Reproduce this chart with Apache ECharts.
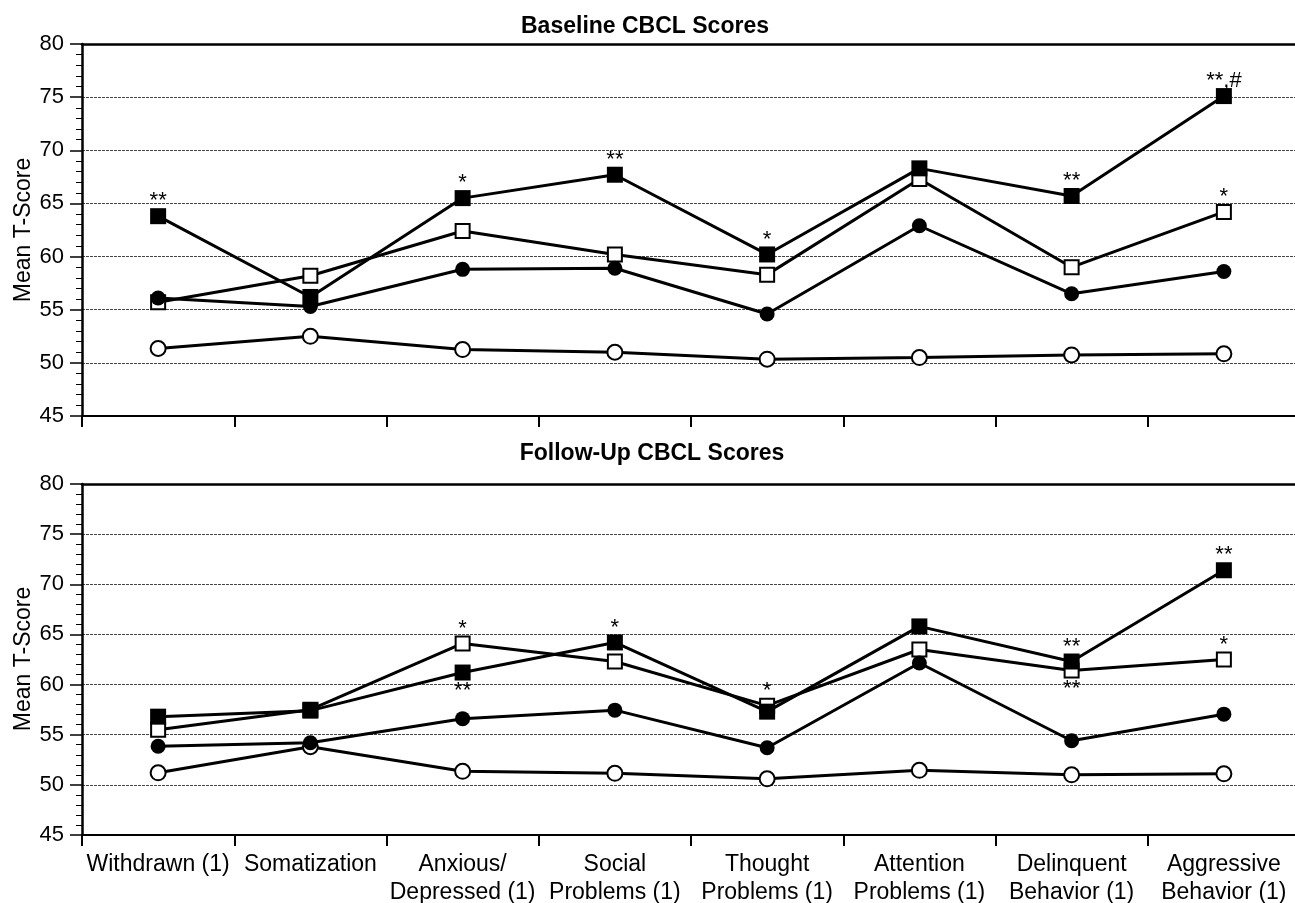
<!DOCTYPE html>
<html>
<head>
<meta charset="utf-8">
<script src="https://cdn.jsdelivr.net/npm/echarts@6/dist/echarts.min.js"></script>
<style>
html,body{margin:0;padding:0;background:#fff;}
#chart{width:1295px;height:903px;}
</style>
</head>
<body>
<div id="chart"></div>
<script>
const categories = ['Withdrawn (1)', 'Somatization', 'Anxious/\nDepressed (1)', 'Social\nProblems (1)', 'Thought\nProblems (1)', 'Attention\nProblems (1)', 'Delinquent\nBehavior (1)', 'Aggressive\nBehavior (1)'];
const titles = ['Baseline CBCL Scores', 'Follow-Up CBCL Scores'];
const yName = 'Mean T-Score';

// Baseline
const baseFilledSq   = [63.8, 56.2, 65.5, 67.7, 60.2, 68.3, 65.7, 75.1];
const baseOpenSq     = [55.7, 58.2, 62.4, 60.2, 58.3, 67.3, 59.0, 64.2];
const baseFilledCirc = [56.1, 55.3, 58.8, 58.9, 54.6, 62.9, 56.5, 58.6];
const baseOpenCirc   = [51.35, 52.5, 51.25, 51.0, 50.35, 50.5, 50.75, 50.85];
const baseFilledSqMarks = ['**', '', '*', '**', '*', '', '**', '**,#'];
const baseFilledSqPos   = ['top', 'top', 'top', 'top', 'top', 'top', 'top', 'top'];
const baseOpenSqMarks   = ['', '', '', '', '', '', '', '*'];
const baseOpenSqPos     = ['top', 'top', 'top', 'top', 'top', 'top', 'top', 'top'];

// Follow-up
const fuFilledSq   = [56.8, 57.4, 61.2, 64.2, 57.3, 65.8, 62.3, 71.4];
const fuOpenSq     = [55.5, 57.5, 64.1, 62.3, 57.9, 63.5, 61.4, 62.5];
const fuFilledCirc = [53.85, 54.2, 56.6, 57.45, 53.7, 62.15, 54.4, 57.05];
const fuOpenCirc   = [51.2, 53.8, 51.35, 51.15, 50.6, 51.45, 51.0, 51.1];
const fuFilledSqMarks = ['', '', '**', '*', '', '', '**', '**'];
const fuFilledSqPos   = ['top', 'top', 'bottom', 'top', 'top', 'top', 'top', 'top'];
const fuOpenSqMarks   = ['', '', '*', '', '*', '', '**', '*'];
const fuOpenSqPos     = ['top', 'top', 'top', 'top', 'top', 'top', 'bottom', 'top'];

const FONT = '"Liberation Sans", Arial, Helvetica, sans-serif';

function withMarks(values, marks, pos) {
  return values.map((v, i) => {
    const p = (pos && pos[i]) || 'top';
    return {
      value: v,
      label: {
        show: !!(marks && marks[i]),
        formatter: (marks && marks[i]) || '',
        position: p,
        offset: p === 'top' ? [0, 6] : [0, -3]
      }
    };
  });
}

function makeSeries(gi, data, symbol, filled, z) {
  return {
    type: 'line',
    xAxisIndex: gi * 2, yAxisIndex: gi,
    data: data,
    symbol: symbol,
    symbolSize: symbol === 'rect' ? (filled ? 16 : 14) : 15,
    showAllSymbol: true,
    z: z,
    lineStyle: { color: '#000', width: 3 },
    itemStyle: { color: filled ? '#000' : '#fff', borderColor: '#000', borderWidth: filled ? 0 : 2 },
    label: { color: '#000', fontFamily: FONT, fontSize: 22, distance: 2 },
    emphasis: { disabled: true },
    animation: false
  };
}

const grids = [
  { left: 82, width: 1218, top: 44, height: 372, outerBoundsMode: 'none', containLabel: false },
  { left: 82, width: 1218, top: 484, height: 351, outerBoundsMode: 'none', containLabel: false }
];

function xAxis(gi, showLabels) {
  return {
    type: 'category', gridIndex: gi, data: categories,
    axisLine: { show: true, lineStyle: { color: '#000', width: 2 } },
    axisTick: { show: true, length: 11, lineStyle: { color: '#000', width: 2 } },
    axisLabel: { show: showLabels, interval: 0, color: '#000', fontFamily: FONT, fontSize: 23, lineHeight: 28, margin: 16 },
    splitLine: { show: false },
    z: 10
  };
}
function topAxis(gi) {
  return {
    type: 'category', gridIndex: gi, data: categories, position: 'top',
    axisLine: { show: true, lineStyle: { color: '#000', width: 2.5 } },
    axisTick: { show: false }, axisLabel: { show: false }, splitLine: { show: false },
    z: 10
  };
}
function yAxis(gi) {
  return {
    type: 'value', gridIndex: gi, min: 45, max: 80, interval: 5,
    axisLine: { show: true, lineStyle: { color: '#000', width: 2.5 } },
    axisTick: { show: true, length: 12, lineStyle: { color: '#000', width: 1.5 } },
    minorTick: { show: true, splitNumber: 5, length: 6, lineStyle: { color: '#000', width: 1 } },
    axisLabel: { color: '#000', fontFamily: FONT, fontSize: 22, margin: 18 },
    splitLine: { show: true, lineStyle: { color: '#444', width: 1, type: [3, 1] } }
  };
}
function yNameText(cy) {
  return {
    type: 'text', x: 24, y: cy, rotation: Math.PI / 2, silent: true,
    style: { text: yName, fill: '#000', font: '23px ' + FONT, textAlign: 'center', textVerticalAlign: 'middle', verticalAlign: 'middle' }
  };
}

const chart = echarts.init(document.getElementById('chart'), null, { renderer: 'canvas' });
chart.setOption({
  backgroundColor: '#fff',
  animation: false,
  title: [
    { text: titles[0], left: 640, top: 10, textAlign: 'center', textStyle: { fontFamily: FONT, fontSize: 23, fontWeight: 'bold', color: '#000' } },
    { text: titles[1], left: 647, top: 437, textAlign: 'center', textStyle: { fontFamily: FONT, fontSize: 23, fontWeight: 'bold', color: '#000' } }
  ],
  graphic: [yNameText(230), yNameText(659)],
  grid: grids,
  xAxis: [xAxis(0, false), topAxis(0), xAxis(1, true), topAxis(1)],
  yAxis: [yAxis(0), yAxis(1)],
  series: [
    makeSeries(0, baseOpenCirc, 'circle', false, 2),
    makeSeries(0, withMarks(baseOpenSq, baseOpenSqMarks, baseOpenSqPos), 'rect', false, 3),
    makeSeries(0, withMarks(baseFilledSq, baseFilledSqMarks, baseFilledSqPos), 'rect', true, 4),
    makeSeries(0, baseFilledCirc, 'circle', true, 5),
    makeSeries(1, fuOpenCirc, 'circle', false, 2),
    makeSeries(1, withMarks(fuOpenSq, fuOpenSqMarks, fuOpenSqPos), 'rect', false, 3),
    makeSeries(1, withMarks(fuFilledSq, fuFilledSqMarks, fuFilledSqPos), 'rect', true, 4),
    makeSeries(1, fuFilledCirc, 'circle', true, 5)
  ]
});
</script>
</body>
</html>
